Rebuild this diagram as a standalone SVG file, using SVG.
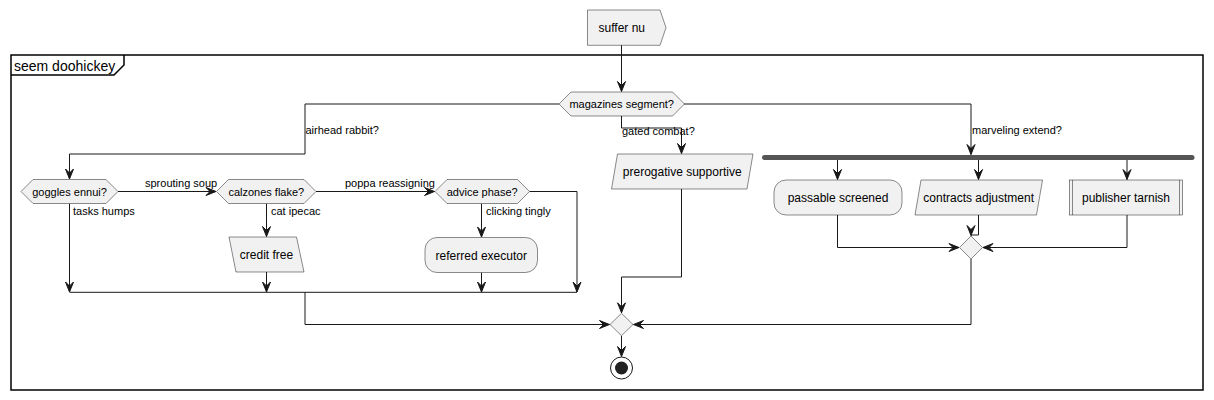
<svg xmlns="http://www.w3.org/2000/svg" width="1214" height="400" viewBox="0 0 1214 400">
<style>
text{font-family:"Liberation Sans",Arial,sans-serif;fill:#000}
.t12{font-size:12px}
.t11{font-size:11px}
.c{text-anchor:middle}
.node{fill:#F1F1F1;stroke:#181818;stroke-width:0.5}
.ln{fill:none;stroke:#181818;stroke-width:1}
.arr{marker-end:url(#ah)}
</style>
<defs>
<marker id="ah" markerUnits="userSpaceOnUse" markerWidth="14" markerHeight="12" viewBox="-12 -6 14 12" refX="0" refY="0" orient="auto">
<path d="M0,0 L-10,-4 L-6,0 L-10,4 Z" fill="#181818" stroke="#181818" stroke-width="1" stroke-linejoin="miter"/>
</marker>
</defs>
<rect width="1214" height="400" fill="#fff"/>
<g id="frame">
<rect x="11" y="55" width="1192" height="335" fill="none" stroke="#000" stroke-width="1.5"/>
<path d="M11,75 H114 L124,65 V55" fill="none" stroke="#000" stroke-width="1.5"/>
<text x="14" y="70.5" style="font-size:14px">seem doohickey</text>
</g>
<g id="connectors">
<path class="ln arr" d="M621.5,45 V91.5"/>
<path class="ln arr" d="M559,104 H305 V154 H69.5 V179"/>
<path class="ln arr" d="M621.5,116 V128 H681.5 V153.5"/>
<path class="ln arr" d="M684,104 H971 V154.5"/>
<path class="ln arr" d="M837.5,160 V179.5"/>
<path class="ln arr" d="M978.5,160 V179.5"/>
<path class="ln arr" d="M1127,160 V179.5"/>
<path class="ln arr" d="M837.5,215 V247.5 H959"/>
<path class="ln arr" d="M978.5,215 V235 H971 V235.5"/>
<path class="ln arr" d="M1127,215 V247.5 H983"/>
<path class="ln arr" d="M971,259 V324.5 H633.5"/>
<path class="ln arr" d="M681.5,189 V277 H621.5 V312.8"/>
<path class="ln arr" d="M621.5,335.7 V356.5"/>
<path class="ln arr" d="M118,191.5 H216"/>
<path class="ln arr" d="M316,191.5 H434.5"/>
<path class="ln arr" d="M69.5,203.5 V292"/>
<path class="ln arr" d="M266.5,203.5 V236.5"/>
<path class="ln arr" d="M266.5,272 V292"/>
<path class="ln arr" d="M481.5,203.5 V237"/>
<path class="ln arr" d="M481.5,272.5 V292"/>
<path class="ln arr" d="M529.5,191.5 H577 V292"/>
<path class="ln" d="M69.5,292.3 H577"/>
<path class="ln arr" d="M305,292.3 V324.5 H609.5"/>
<text class="t11" x="305.5" y="134">airhead rabbit?</text>
<text class="t11" x="622" y="135">gated combat?</text>
<text class="t11" x="972" y="134">marveling extend?</text>
<text class="t11" x="145" y="187">sprouting soup</text>
<text class="t11" x="345" y="187">poppa reassigning</text>
<text class="t11" x="73" y="214.5">tasks humps</text>
<text class="t11" x="271" y="214.5">cat ipecac</text>
<text class="t11" x="486" y="214.5">clicking tingly</text>
</g>
<g id="start">
<polygon class="node" points="587.5,10 660,10 666,27.7 660,45.3 587.5,45.3"/>
<text class="t12" x="598.5" y="32">suffer nu</text>
</g>
<g id="magazines">
<polygon class="node" points="559,104 571,92 672.5,92 684.5,104 672.5,116 571,116"/>
<text class="t11 c" x="621.7" y="108">magazines segment?</text>
</g>
<g id="goggles">
<polygon class="node" points="21,191.5 33,179.5 106,179.5 118,191.5 106,203.5 33,203.5"/>
<text class="t11 c" x="69.5" y="195.5">goggles ennui?</text>
</g>
<g id="calzones">
<polygon class="node" points="216.5,191.5 228.5,179.5 304,179.5 316,191.5 304,203.5 228.5,203.5"/>
<text class="t11 c" x="266.3" y="195.5">calzones flake?</text>
</g>
<g id="advice">
<polygon class="node" points="435,191.5 447,179.5 517.5,179.5 529.5,191.5 517.5,203.5 447,203.5"/>
<text class="t11 c" x="482.2" y="195.5">advice phase?</text>
</g>
<g id="credit">
<polygon class="node" points="229,237 296.5,237 304,272 236,272"/>
<text class="t12 c" x="266.5" y="259">credit free</text>
</g>
<g id="referred">
<rect class="node" x="425" y="237.5" width="112.5" height="35" rx="12" ry="12"/>
<text class="t12 c" x="481.3" y="259.5">referred executor</text>
</g>
<g id="prerogative">
<polygon class="node" points="617.5,154 753,154 747,189 611.5,189"/>
<text class="t12 c" x="682.2" y="176">prerogative supportive</text>
</g>
<g id="fork">
<rect x="762" y="155" width="432.5" height="5" rx="2.5" ry="2.5" fill="#555555"/>
</g>
<g id="passable">
<rect class="node" x="774" y="180" width="128" height="35" rx="12" ry="12"/>
<text class="t12 c" x="838" y="202">passable screened</text>
</g>
<g id="contracts">
<polygon class="node" points="921,180 1042.5,180 1036.5,215 915,215"/>
<text class="t12 c" x="978.7" y="202">contracts adjustment</text>
</g>
<g id="publisher">
<rect class="node" x="1069.5" y="180" width="113" height="35"/>
<path d="M1072.5,180 V215 M1179.5,180 V215" stroke="#181818" stroke-width="0.5" fill="none"/>
<text class="t12 c" x="1126" y="202">publisher tarnish</text>
</g>
<g id="merge-right">
<polygon class="node" points="971,236 982.5,247.5 971,259 959.5,247.5"/>
</g>
<g id="merge-final">
<polygon class="node" points="621.5,313.3 633,324.5 621.5,335.7 610,324.5"/>
</g>
<g id="end">
<circle cx="621.5" cy="368" r="11" fill="#fff" stroke="#181818" stroke-width="1"/>
<circle cx="621.5" cy="368" r="6.5" fill="#222222"/>
</g>
</svg>
